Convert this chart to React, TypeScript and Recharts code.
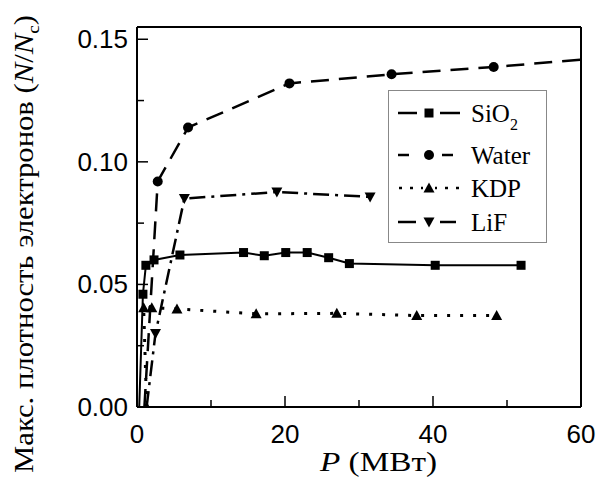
import { LineChart, Line, XAxis, YAxis, ReferenceLine } from 'recharts';

const sio2P = [0.3, 0.8, 1.2, 2.3, 5.8, 14.4, 17.2, 20.1, 23.0, 25.9, 28.7, 40.3, 51.9];
const sio2N = [0, 0.046, 0.0578, 0.06, 0.062, 0.063, 0.0617, 0.063, 0.063, 0.0609, 0.0585, 0.0578, 0.0578];

const waterP = [1.0, 2.8, 6.9, 20.6, 34.4, 48.2, 60];
const waterN = [0, 0.092, 0.114, 0.132, 0.1357, 0.1387, 0.1417];

const kdpP = [1.3, 0.9, 2.0, 5.4, 16.1, 27.0, 37.8, 48.6];
const kdpN = [0, 0.0405, 0.0405, 0.04, 0.038, 0.0382, 0.0373, 0.0373];

const lifP = [1.3, 2.5, 6.4, 18.9, 31.5];
const lifN = [0, 0.03, 0.085, 0.0877, 0.0857];

const xTicks = [0, 10, 20, 30, 40, 50, 60];
const yTicks = [0, 0.025, 0.05, 0.075, 0.1, 0.125, 0.15];

const toRows = (p: number[], n: number[]) => p.map((x, i) => ({ x, y: n[i] }));

const sio2Data = toRows(sio2P, sio2N);
const waterData = toRows(waterP, waterN);
const kdpData = toRows(kdpP, kdpN);
const lifData = toRows(lifP, lifN);

const sans = 'Liberation Sans, Arial, sans-serif';
const serif = 'Liberation Serif, Times New Roman, serif';

type Shape = 'square' | 'circle' | 'up' | 'down';

const marker = (shape: Shape, cx: number, cy: number, key?: string | number) => {
  if (shape === 'square') return <rect key={key} x={cx - 4.5} y={cy - 4.5} width={9} height={9} fill="#000" />;
  if (shape === 'circle') return <circle key={key} cx={cx} cy={cy} r={5} fill="#000" />;
  if (shape === 'up')
    return <path key={key} d={`M${cx},${cy - 5.5} L${cx + 5.5},${cy + 4.5} L${cx - 5.5},${cy + 4.5} Z`} fill="#000" />;
  return <path key={key} d={`M${cx},${cy + 5.5} L${cx + 5.5},${cy - 4.5} L${cx - 5.5},${cy - 4.5} Z`} fill="#000" />;
};

const makeDot = (shape: Shape, hide: number[]) => (props: any) => {
  const { cx, cy, index } = props;
  if (hide.includes(index) || cx == null || cy == null) return <g key={`d${index}`} />;
  return marker(shape, cx, cy, `d${index}`);
};

const XTick = (props: any) => {
  const { x, y, payload } = props;
  const major = payload.value % 20 === 0;
  return (
    <g>
      <line x1={x} y1={y} x2={x} y2={y - (major ? 11 : 7)} stroke="#000" strokeWidth={1.5} />
      {major && (
        <text x={x} y={y + 36} textAnchor="middle" fontFamily={sans} fontSize={26} fill="#000">
          {payload.value}
        </text>
      )}
    </g>
  );
};

const YTick = (props: any) => {
  const { x, y, payload } = props;
  const major = Math.round(payload.value * 1000) % 50 === 0;
  return (
    <g>
      <line x1={x} y1={y} x2={x + (major ? 11 : 7)} y2={y} stroke="#000" strokeWidth={1.5} />
      {major && (
        <text x={x - 9} y={y + 9} textAnchor="end" fontFamily={sans} fontSize={26} fill="#000">
          {payload.value.toFixed(2)}
        </text>
      )}
    </g>
  );
};

// legend sample: line pieces [x1, x2] left and right of the marker
const legendItems: { name: string; sub?: string; shape: Shape; pieces: number[][]; y: number }[] = [
  { name: 'SiO', sub: '2', shape: 'square', pieces: [[10, 29], [52, 72]], y: 23 },
  { name: 'Water', shape: 'circle', pieces: [[10, 21], [54, 65]], y: 65 },
  { name: 'KDP', shape: 'up', pieces: [[11, 14], [22, 25], [33, 35], [47, 49], [57, 60], [68, 71]], y: 98 },
  { name: 'LiF', shape: 'down', pieces: [[10, 28], [52, 68]], y: 132 },
];

const LegendBox = () => (
  <svg width={160} height={154} style={{ display: 'block' }}>
    <rect x={0.5} y={0.5} width={158} height={152} fill="#fff" stroke="#888" strokeWidth={1} />
    {legendItems.map((it) => (
      <g key={it.name}>
        {it.pieces.map(([a, b], i) => (
          <line key={i} x1={a} y1={it.y} x2={b} y2={it.y} stroke="#000" strokeWidth={2.5} />
        ))}
        {marker(it.shape, 41, it.y)}
        <text x={83} y={it.y + 9} fontFamily={serif} fontSize={25} fill="#000">
          {it.name}
          {it.sub && (
            <tspan fontSize={16} dy={8}>
              {it.sub}
            </tspan>
          )}
        </text>
      </g>
    ))}
  </svg>
);

const Titles = () => (
  <svg width={598} height={477} style={{ position: 'absolute', left: 0, top: 0, pointerEvents: 'none' }}>
    <text
      transform="translate(33, 473) rotate(-90)"
      x={0}
      y={0}
      fontFamily={serif}
      fontSize={27}
      fill="#000"
      textLength={458}
      lengthAdjust="spacingAndGlyphs"
    >
      Макс. плотность электронов (<tspan fontStyle="italic">N</tspan>/<tspan fontStyle="italic">N</tspan>
      <tspan fontSize={17} dy={6}>c</tspan>
      <tspan dy={-6}>)</tspan>
    </text>
    <text
      x={320}
      y={471}
      fontFamily={serif}
      fontSize={27}
      fill="#000"
      textLength={117}
      lengthAdjust="spacingAndGlyphs"
    >
      <tspan fontStyle="italic">P</tspan> (МВт)
    </text>
  </svg>
);

export default function App() {
  return (
    <div style={{ position: 'absolute', left: 0, top: 0, width: 598, height: 477, background: '#fff' }}>
      <LineChart width={598} height={477} margin={{ top: 27, right: 17, bottom: 30, left: 57 }}>
        <XAxis
          type="number"
          dataKey="x"
          domain={[0, 60]}
          ticks={xTicks}
          interval={0}
          allowDataOverflow
          height={40}
          tickSize={0}
          tickMargin={0}
          tickLine={false}
          tick={XTick}
          axisLine={{ stroke: '#000', strokeWidth: 2 }}
        />
        <YAxis
          type="number"
          dataKey="y"
          domain={[0, 0.155]}
          ticks={yTicks}
          interval={0}
          allowDataOverflow
          width={80}
          tickSize={0}
          tickMargin={0}
          tickLine={false}
          tick={YTick}
          axisLine={{ stroke: '#000', strokeWidth: 2 }}
        />
        <ReferenceLine y={0.155} stroke="#000" strokeWidth={2} />
        <ReferenceLine x={60} stroke="#000" strokeWidth={2} />
        <Line
          data={sio2Data}
          dataKey="y"
          type="linear"
          stroke="#000"
          strokeWidth={2}
          dot={makeDot('square', [0])}
          activeDot={false}
          isAnimationActive={false}
        />
        <Line
          data={waterData}
          dataKey="y"
          type="linear"
          stroke="#000"
          strokeWidth={2.5}
          strokeDasharray="18 10"
          dot={makeDot('circle', [0, waterP.length - 1])}
          activeDot={false}
          isAnimationActive={false}
        />
        <Line
          data={kdpData}
          dataKey="y"
          type="linear"
          stroke="#000"
          strokeWidth={3}
          strokeDasharray="3 10"
          dot={makeDot('up', [])}
          activeDot={false}
          isAnimationActive={false}
        />
        <Line
          data={lifData}
          dataKey="y"
          type="linear"
          stroke="#000"
          strokeWidth={2.5}
          strokeDasharray="16 6 3 6"
          dot={makeDot('down', [0])}
          activeDot={false}
          isAnimationActive={false}
        />
      </LineChart>
      <div style={{ position: 'absolute', left: 388, top: 90 }}>
        <LegendBox />
      </div>
      <Titles />
    </div>
  );
}
